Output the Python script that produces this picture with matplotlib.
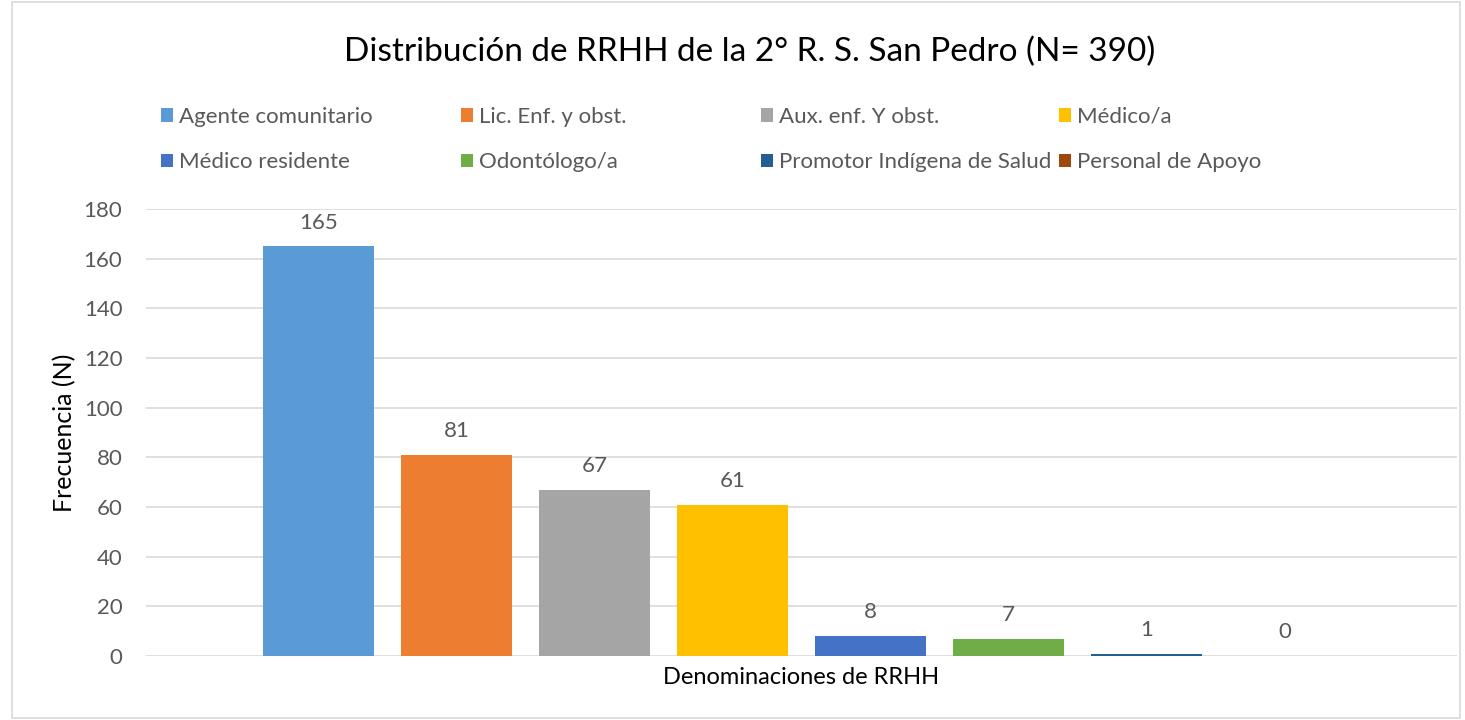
import matplotlib.pyplot as plt
from matplotlib.patches import Rectangle

categorias = ['Agente comunitario', 'Lic. Enf. y obst.', 'Aux. enf. Y obst.', 'Médico/a',
              'Médico residente', 'Odontólogo/a', 'Promotor Indígena de Salud', 'Personal de Apoyo']
valores = [165, 81, 67, 61, 8, 7, 1, 0]
colores = ['#5B9BD5', '#ED7D31', '#A5A5A5', '#FFC000', '#4472C4', '#70AD47', '#255E91', '#9E480E']

plt.rcParams['font.family'] = ['Lato', 'DejaVu Sans']
gris = '#595959'

fig = plt.figure(figsize=(14.65, 7.2), dpi=100)
ax = fig.add_axes([146 / 1465, 1 - 656 / 720, (1457 - 146) / 1465, (656 - 209) / 720])

barras = []
for i, (cat, v, c) in enumerate(zip(categorias, valores, colores)):
    b = ax.bar(i, v, width=0.8, color=c, label=cat, zorder=2)
    barras.append(b)
    ax.text(i, v + 5.5, str(v), ha='center', va='bottom', fontsize=16, color=gris)

ax.set_xlim(-1.25, 8.25)
ax.set_ylim(0, 180)
ax.set_yticks(range(0, 181, 20))
ax.set_xticks([])
ax.tick_params(axis='y', length=0, labelsize=16, labelcolor=gris, pad=17)
ax.grid(axis='y', color='#d9d9d9', linewidth=1.2, zorder=0)
for s in ax.spines.values():
    s.set_visible(False)

ax.set_ylabel('Frecuencia (N)', fontsize=18, color='black', labelpad=5)
ax.set_xlabel('Denominaciones de RRHH', fontsize=17, color='black', labelpad=8)

fig.text(750 / 1465, 1 - 52 / 720, 'Distribución de RRHH de la 2° R. S. San Pedro (N= 390)',
         ha='center', va='center', fontsize=24, color='black')

# leyenda en 4 columnas fijas, 2 filas
col_x = [152, 452, 752, 1050]
for j, x in enumerate(col_x):
    idx = [j, j + 4]
    fig.legend([barras[k] for k in idx], [categorias[k] for k in idx],
               loc='upper left', bbox_to_anchor=(x / 1465, 1 - 98 / 720),
               frameon=False, fontsize=16, labelcolor=gris, handlelength=0.55, handleheight=0.55,
               handletextpad=0.25, labelspacing=1.15, borderaxespad=0)

fig.patches.append(Rectangle((12 / 1465, 2 / 720), 1448 / 1465, 716 / 720, transform=fig.transFigure,
                             fill=False, edgecolor='#d9d9d9', linewidth=1.2))

fig.savefig('out.png', dpi=100, facecolor='white')
